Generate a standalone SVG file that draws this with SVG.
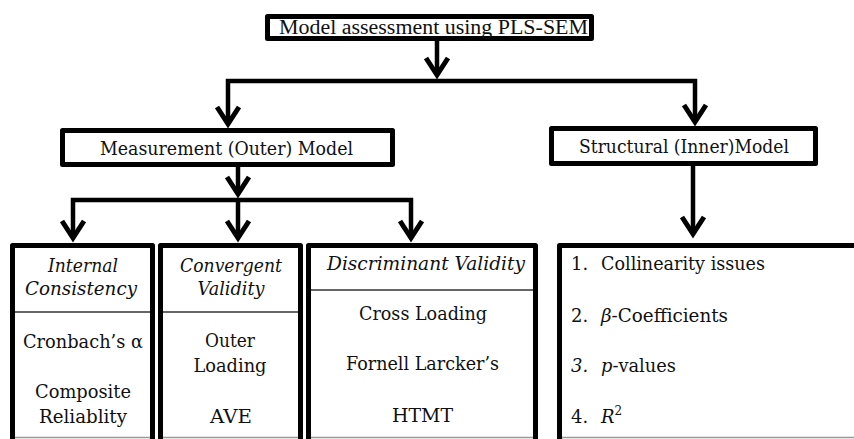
<svg xmlns="http://www.w3.org/2000/svg" width="854" height="439" viewBox="0 0 854 439">
<defs>
<style>
.box{fill:#fff;stroke:#000;stroke-width:5;stroke-linejoin:round}
.div{stroke:#333;stroke-width:1.5}
.base{stroke:#999;stroke-width:1.5}
.c{fill:none;stroke:#000;stroke-width:4.5;stroke-linejoin:miter;marker-end:url(#ah)}
.t{font-family:"DejaVu Serif",serif;font-size:18px;fill:#111;text-anchor:middle}
.tt{font-family:"Liberation Serif",serif;font-size:20px}
.s{text-anchor:start}
.i{font-style:italic}
</style>
<marker id="ah" markerUnits="userSpaceOnUse" viewBox="-24 -16 32 32" markerWidth="32" markerHeight="32" refX="0" refY="0" orient="auto" overflow="visible">
<path d="M-17,-11 L0,0 L-17,11" fill="none" stroke="#000" stroke-width="5" stroke-linejoin="miter"/>
</marker>
</defs>
<rect width="854" height="439" fill="#fff"/>
<g id="connectors">
<path class="c" d="M437,40 V75"/>
<path class="c" d="M437,81 H228 V124"/>
<path class="c" d="M437,81 H695 V122"/>
<path class="c" d="M238,166 V194"/>
<path class="c" d="M238,200 H73 V238"/>
<path class="c" d="M238,200 V238"/>
<path class="c" d="M238,200 H411 V238"/>
<path class="c" d="M693,166 V234"/>
</g>
<g id="title">
<rect class="box" x="267.5" y="16.5" width="324" height="22"/>
<text class="t tt" x="433.5" y="34" textLength="309" lengthAdjust="spacingAndGlyphs">Model assessment using PLS-SEM</text>
</g>
<g id="measurement">
<rect class="box" x="62.5" y="130.5" width="330" height="34"/>
<text class="t" x="226.5" y="155" textLength="253" lengthAdjust="spacingAndGlyphs">Measurement (Outer) Model</text>
</g>
<g id="structural">
<rect class="box" x="551.5" y="128.5" width="264" height="35"/>
<text class="t" x="684" y="153" textLength="210" lengthAdjust="spacingAndGlyphs">Structural (Inner)Model</text>
</g>
<g id="internal">
<rect class="box" x="12.5" y="245.5" width="140" height="230"/>
<line class="div" x1="15" y1="312" x2="150" y2="312"/>
<line class="base" x1="15" y1="437.5" x2="150" y2="437.5"/>
<text class="t i" x="83" y="272" textLength="70" lengthAdjust="spacingAndGlyphs">Internal</text>
<text class="t i" x="81" y="295" textLength="112" lengthAdjust="spacingAndGlyphs">Consistency</text>
<text class="t" x="83" y="348" textLength="120" lengthAdjust="spacingAndGlyphs">Cronbach’s α</text>
<text class="t" x="83" y="398" textLength="96" lengthAdjust="spacingAndGlyphs">Composite</text>
<text class="t" x="83" y="423" textLength="88" lengthAdjust="spacingAndGlyphs">Reliablity</text>
</g>
<g id="convergent">
<rect class="box" x="160.5" y="245.5" width="140" height="230"/>
<line class="div" x1="163" y1="312" x2="298" y2="312"/>
<line class="base" x1="163" y1="437.5" x2="298" y2="437.5"/>
<text class="t i" x="231" y="272" textLength="102" lengthAdjust="spacingAndGlyphs">Convergent</text>
<text class="t i" x="231" y="295" textLength="67" lengthAdjust="spacingAndGlyphs">Validity</text>
<text class="t" x="230" y="347" textLength="50" lengthAdjust="spacingAndGlyphs">Outer</text>
<text class="t" x="230" y="372" textLength="73" lengthAdjust="spacingAndGlyphs">Loading</text>
<text class="t" x="231" y="423" textLength="42" lengthAdjust="spacingAndGlyphs">AVE</text>
</g>
<g id="discriminant">
<rect class="box" x="308.5" y="245.5" width="227" height="230"/>
<line class="div" x1="311" y1="290" x2="533" y2="290"/>
<line class="base" x1="311" y1="437.5" x2="533" y2="437.5"/>
<text class="t i" x="426" y="270" textLength="198" lengthAdjust="spacingAndGlyphs">Discriminant Validity</text>
<text class="t" x="423" y="320" textLength="128" lengthAdjust="spacingAndGlyphs">Cross Loading</text>
<text class="t" x="422.5" y="370" textLength="153" lengthAdjust="spacingAndGlyphs">Fornell Larcker’s</text>
<text class="t" x="422.5" y="422" textLength="61" lengthAdjust="spacingAndGlyphs">HTMT</text>
</g>
<g id="inner-criteria">
<rect class="box" x="559.5" y="245.5" width="320" height="230"/>
<line class="base" x1="562" y1="437.5" x2="854" y2="437.5"/>
<text class="t s" x="571" y="270">1.</text>
<text class="t s" x="601" y="270" textLength="164" lengthAdjust="spacingAndGlyphs">Collinearity issues</text>
<text class="t s" x="571" y="322">2.</text>
<text class="t s" x="601" y="322" textLength="127" lengthAdjust="spacingAndGlyphs"><tspan class="i">β</tspan>-Coefficients</text>
<text class="t s i" x="571" y="372">3.</text>
<text class="t s" x="601" y="372" textLength="75" lengthAdjust="spacingAndGlyphs"><tspan class="i">p</tspan>-values</text>
<text class="t s" x="571" y="423">4.</text>
<text class="t s" x="601" y="423"><tspan class="i">R</tspan><tspan font-size="12" dy="-8">2</tspan></text>
</g>
</svg>
